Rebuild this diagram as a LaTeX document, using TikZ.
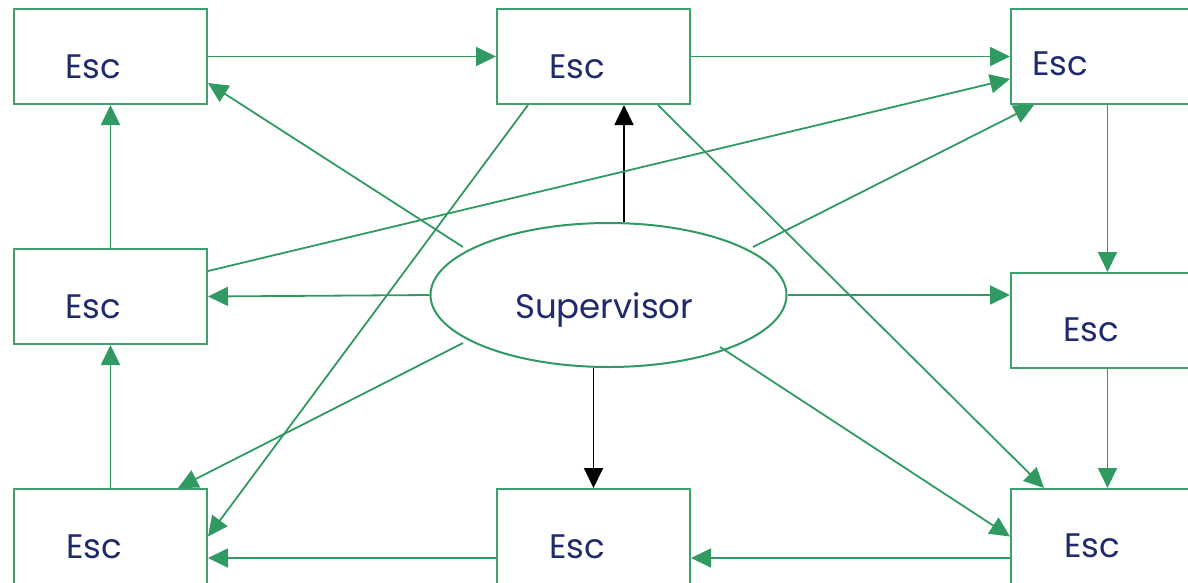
\documentclass[tikz,border=0pt]{standalone}
\usepackage{fontspec}
\setmainfont{Poppins}
\usetikzlibrary{arrows.meta,shapes.geometric}
\definecolor{flow}{RGB}{48,154,98}
\definecolor{edge}{RGB}{62,160,108}
\definecolor{ink}{RGB}{30,42,108}
\tikzset{
  x=1pt, y=-1pt,
  esc/.style={draw=edge, line width=2pt, rectangle, minimum width=193pt,
              minimum height=95pt, inner sep=0pt, anchor=north west},
  lbl/.style={text=ink, anchor=base west, inner sep=0pt,
              font=\fontsize{34}{40}\selectfont},
  sup/.style={draw=flow, line width=2pt, ellipse, minimum width=356pt,
              minimum height=144pt, inner sep=0pt},
  link/.style={draw=flow, line width=1.8pt,
               -{Triangle[length=20pt,width=19pt]}},
  ctrl/.style={draw=black, line width=1.8pt,
               -{Triangle[length=20pt,width=19pt]}}
}
\begin{document}
\begin{tikzpicture}
\useasboundingbox (0,0) rectangle (1188,582);
\clip (0,0) rectangle (1188,582);

% boxes
\node[esc] (tl) at (13,8) {};
\node[esc] (tm) at (496,8) {};
\node[esc] (tr) at (1010,8) {};
\node[esc] (ml) at (13,248) {};
\node[esc] (mr) at (1010,272) {};
\node[esc] (bl) at (13,488) {};
\node[esc] (bm) at (496,488) {};
\node[esc] (br) at (1010,488) {};
\node[sup] (sv) at (608.5,295) {};

% labels
\node[lbl] (tlt) at (65,78) {Esc};
\node[lbl] (tmt) at (549,78) {Esc};
\node[lbl] (trt) at (1032,75) {Esc};
\node[lbl] (mlt) at (65,318) {Esc};
\node[lbl] (mrt) at (1063,341) {Esc};
\node[lbl] (blt) at (66,558) {Esc};
\node[lbl] (bmt) at (549,558) {Esc};
\node[lbl] (brt) at (1064,557) {Esc};
\node[lbl] (svt) at (515,318) {Supervisor};

% helper positions
\coordinate (row) at (0,558);
\coordinate (up) at (624,0);
\coordinate (ul) at (463,247);
\coordinate (ur) at (753,247);
\coordinate (dl) at (463,343);
\coordinate (dr) at (720,347);

% ring
\draw[link] (tl.east) -- (tm.west);
\draw[link] (tm.east) -- (tr.west);
\draw[link] (tr.south) -- (mr.north);
\draw[link] (mr.south) -- (br.north);
\draw[link] (br.west |- row) -- (bm.east |- row);
\draw[link] (bm.west |- row) -- (bl.east |- row);
\draw[link] (bl.north) -- (ml.south);
\draw[link] (ml.north) -- (tl.south);

% supervisor links
\draw[link] (sv.west) -- (ml.east);
\draw[link] (sv.east) -- (mr.west |- sv.east);
\draw[ctrl] (sv.north -| up) -- (tm.south -| up);
\draw[ctrl] (sv.south -| bm.north) -- (bm.north);
\draw[link] (ul) -- ([yshift=-26.5pt]tl.east);
\draw[link] (ur) -- ([xshift=-73.5pt]tr.south);
\draw[link] (dl) -- ([xshift=67.5pt]bl.north);
\draw[link] (dr) -- (br.west);

% diagonals
\draw[link] ([yshift=25.5pt]ml.east) -- ([yshift=-22.5pt]tr.west);
\draw[link] ([xshift=-65.5pt]tm.south) -- (bl.east);
\draw[link] ([xshift=64.5pt]tm.south) -- ([xshift=-63.5pt]br.north);
\end{tikzpicture}
\end{document}
